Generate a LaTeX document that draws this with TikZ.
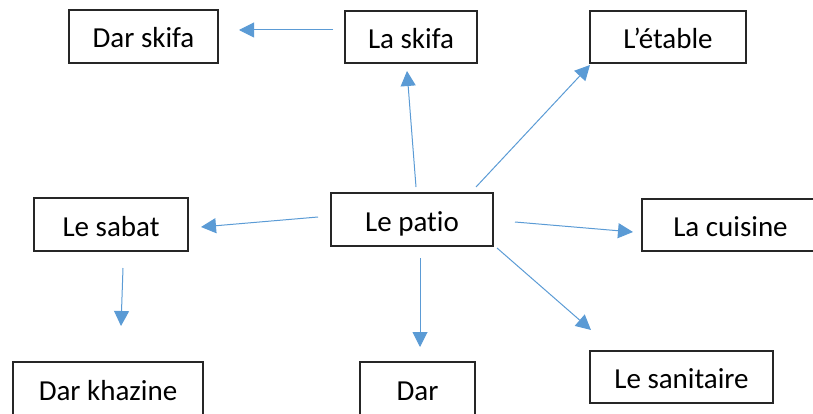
\documentclass[tikz,border=0pt]{standalone}
\usepackage{fontspec}
\setmainfont{Carlito}[Ligatures=NoCommon]
\usetikzlibrary{arrows.meta}
\definecolor{arrowblue}{HTML}{5B9BD5}
\begin{document}
\begin{tikzpicture}[x=1pt,y=-1pt,
  box/.style={draw=black!85, line width=1.2pt, inner sep=0pt, text height=23pt, text depth=0pt,
    font=\fontsize{29}{30}\selectfont},
  link/.style={draw=arrowblue, line width=1pt, -{Triangle[length=15pt,width=15pt]}}]
\useasboundingbox (0,0) rectangle (813,414);
\clip (0,0) rectangle (813,414);
\node[box, minimum width=149pt, minimum height=53pt] (darskifa) at (143.5,36.5) {Dar skifa};
\node[box, minimum width=132pt, minimum height=52pt] (laskifa) at (411,37) {La skifa};
\node[box, minimum width=156pt, minimum height=52pt] (etable) at (668,37) {L’étable};
\node[box, minimum width=154pt, minimum height=53pt] (sabat) at (111,224.5) {Le sabat};
\node[box, minimum width=162pt, minimum height=53pt] (patio) at (412,219.5) {Le patio};
\node[box, minimum width=177pt, minimum height=52pt] (cuisine) at (730.5,225) {La cuisine};
\node[box, minimum width=190pt, minimum height=53pt] (darkhazine) at (108,388.5) {Dar khazine};
\node[box, minimum width=115pt, minimum height=53pt] (dar) at (417.5,388.5) {Dar};
\node[box, minimum width=183pt, minimum height=52pt] (sanitaire) at (681.5,377) {Le sanitaire};
% connector ends
\coordinate (a1s) at (333,30);  \coordinate (a1e) at (239,30);
\coordinate (a2s) at (416,187); \coordinate (a2e) at (407,71);
\coordinate (a3s) at (476,187); \coordinate (a3e) at (590,65);
\coordinate (a4s) at (318,217); \coordinate (a4e) at (201,227);
\coordinate (a5s) at (515,222); \coordinate (a5e) at (633,232);
\coordinate (a6s) at (420,258); \coordinate (a6e) at (420,347);
\coordinate (a7s) at (497,248); \coordinate (a7e) at (591,330);
\coordinate (a8s) at (123,268); \coordinate (a8e) at (121,326);
\draw[link] (a1s) -- (a1e);
\draw[link] (a2s) -- (a2e);
\draw[link] (a3s) -- (a3e);
\draw[link] (a4s) -- (a4e);
\draw[link] (a5s) -- (a5e);
\draw[link] (a6s) -- (a6e);
\draw[link] (a7s) -- (a7e);
\draw[link] (a8s) -- (a8e);
\end{tikzpicture}
\end{document}
